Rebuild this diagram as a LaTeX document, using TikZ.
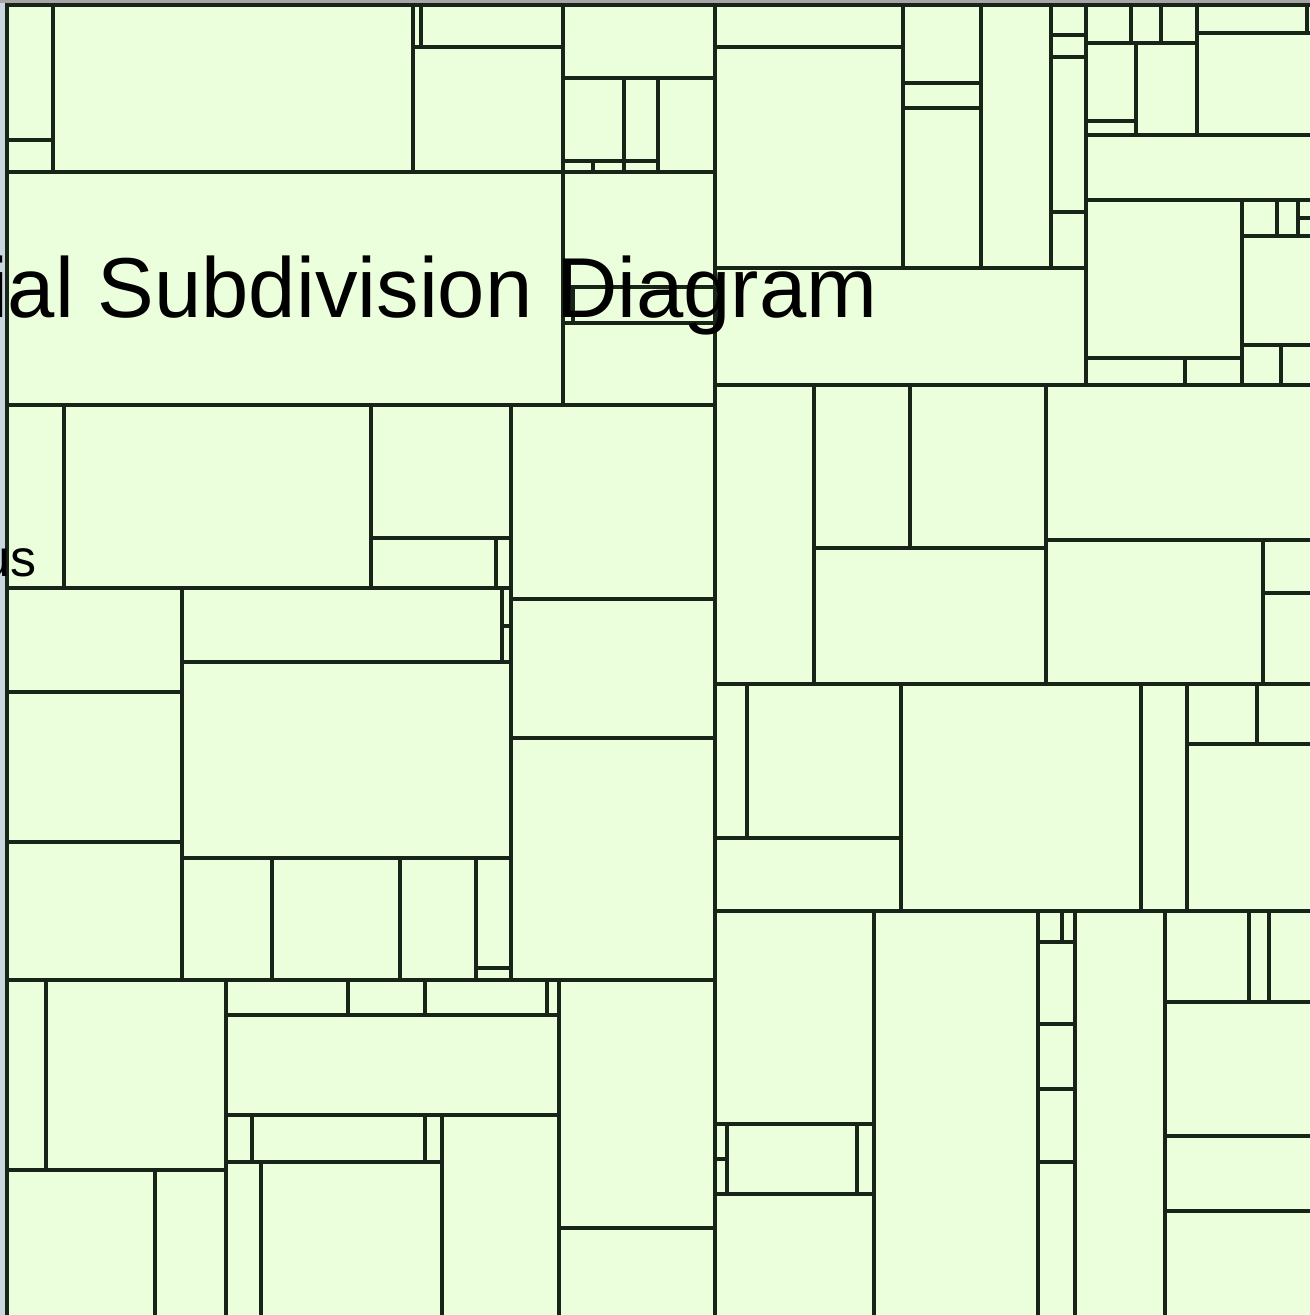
\documentclass[tikz,border=0pt]{standalone}
\usepackage{fontspec}
\setmainfont{Liberation Sans}
\usetikzlibrary{positioning}

\definecolor{cellfill}{RGB}{236,255,221}
\definecolor{celledge}{RGB}{24,36,24}
\definecolor{backblue}{RGB}{200,216,222}

\begin{document}
\begin{tikzpicture}[x=0.02cm, y=-0.02cm,
  cell/.style={fill=cellfill, draw=celledge, line width=2pt},
  bigtext/.style={inner sep=0pt, font=\fontsize{48.4}{58}\selectfont},
  smalltext/.style={inner sep=0pt, font=\fontsize{29.6}{36}\selectfont}]
\def\R{1320}
\def\B{1320}

\useasboundingbox (0,0) rectangle (1310,1315);
\clip (0,0) rectangle (1310,1315);
\fill[backblue] (0,0) rectangle (1310,1315);
\fill[gray!70] (0,0) rectangle (1310,3);

% left half, top
\foreach \xa/\ya/\xb/\yb in {
  7/5/53/140, 7/140/53/172, 53/5/413/172, 413/5/421/47, 421/5/563/47,
  413/47/563/172, 7/172/563/405, 563/5/715/78, 563/78/624/161,
  624/78/658/161, 658/78/715/172, 563/161/593/172, 593/161/624/172,
  624/161/658/172, 563/172/715/287, 563/287/573/323, 573/287/715/323,
  563/323/715/405}
  \draw[cell] (\xa,\ya) rectangle (\xb,\yb);

% left half, middle
\foreach \xa/\ya/\xb/\yb in {
  7/405/64/588, 64/405/371/588, 371/405/511/538, 371/538/496/588,
  496/538/511/588, 511/405/715/599, 511/599/715/738, 511/738/715/980,
  7/588/182/692, 7/692/182/842, 7/842/182/980, 182/588/502/662,
  502/588/511/626, 502/626/511/662, 182/662/511/858, 182/858/272/980,
  272/858/400/980, 400/858/476/980, 476/858/511/968, 476/968/511/980}
  \draw[cell] (\xa,\ya) rectangle (\xb,\yb);

% left half, bottom
\foreach \xa/\ya/\xb/\yb in {
  7/980/46/1170, 46/980/226/1170, 7/1170/155/\B, 155/1170/226/\B,
  226/980/348/1015, 348/980/425/1015, 425/980/547/1015, 547/980/559/1015,
  226/1015/559/1115, 226/1115/252/1162, 252/1115/425/1162,
  425/1115/442/1162, 226/1162/261/\B, 261/1162/442/\B, 442/1115/559/\B,
  559/980/715/1228, 559/1228/715/\B}
  \draw[cell] (\xa,\ya) rectangle (\xb,\yb);

% right half, top
\foreach \xa/\ya/\xb/\yb in {
  715/5/903/47, 715/47/903/268, 903/5/981/83, 903/83/981/108,
  903/108/981/268, 981/5/1051/268, 1051/5/1086/35, 1051/35/1086/57,
  1051/57/1086/212, 1051/212/1086/268, 715/268/1086/385,
  1086/5/1131/43, 1131/5/1161/43, 1161/5/1197/43, 1086/43/1136/121,
  1086/121/1136/135, 1136/43/1197/135, 1197/5/1307/33, 1307/5/\R/33,
  1197/33/\R/135, 1086/135/\R/200, 1086/200/1242/358, 1086/358/1185/385,
  1185/358/1242/385, 1242/200/1277/236, 1277/200/1298/236,
  1298/200/\R/218, 1298/218/\R/236, 1242/236/\R/345, 1242/345/1281/385,
  1281/345/\R/385}
  \draw[cell] (\xa,\ya) rectangle (\xb,\yb);

% right half, middle
\foreach \xa/\ya/\xb/\yb in {
  715/385/814/684, 814/385/910/548, 910/385/1046/548, 814/548/1046/684,
  1046/385/\R/540, 1046/540/1263/684, 1263/540/\R/593, 1263/593/\R/684,
  715/684/747/838, 747/684/901/838, 715/838/901/911, 901/684/1141/911,
  1141/684/1187/911, 1187/684/1257/744, 1257/684/\R/744, 1187/744/\R/911}
  \draw[cell] (\xa,\ya) rectangle (\xb,\yb);

% right half, bottom
\foreach \xa/\ya/\xb/\yb in {
  715/911/874/1124, 715/1124/727/1159, 715/1159/727/1194,
  727/1124/857/1194, 857/1124/874/1194, 715/1194/874/\B,
  874/911/1038/\B, 1038/911/1062/942, 1062/911/1075/942,
  1038/942/1075/1024, 1038/1024/1075/1089, 1038/1089/1075/1162,
  1038/1162/1075/\B, 1075/911/1165/\B, 1165/911/1249/1002,
  1249/911/1269/1002, 1269/911/\R/1002, 1165/1002/\R/1136,
  1165/1136/\R/1211, 1165/1211/\R/\B}
  \draw[cell] (\xa,\ya) rectangle (\xb,\yb);

\node[bigtext, anchor=base east] (title) at (878,317) {ial Subdivision Diagram};
\node[smalltext, anchor=base east] (sidenote) at (37,576) {us};
\end{tikzpicture}
\end{document}
